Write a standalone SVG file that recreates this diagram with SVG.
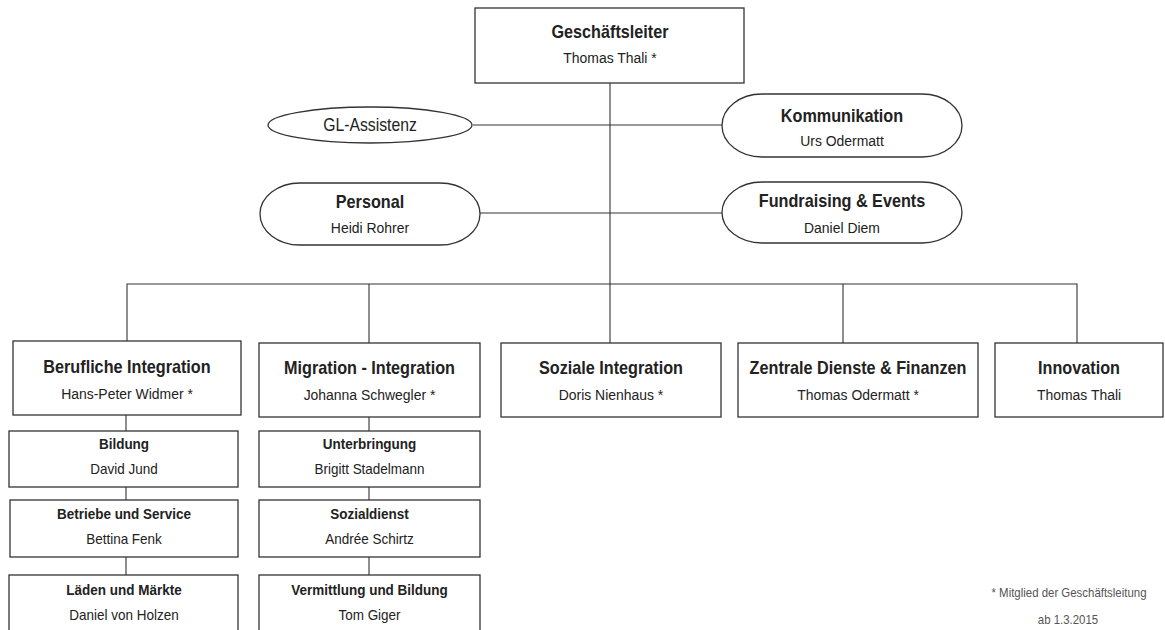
<svg xmlns="http://www.w3.org/2000/svg" width="1165" height="630" viewBox="0 0 1165 630">
<style>
  .box { fill: #ffffff; stroke: #333333; stroke-width: 1.3; }
  .con { fill: none; stroke: #333333; stroke-width: 1.1; }
  text { font-family: "Liberation Sans", Arial, sans-serif; fill: #222222; text-anchor: middle; }
  .h1 { font-size: 18px; font-weight: bold; }
  .n1 { font-size: 15.5px; }
  .h2 { font-size: 15px; font-weight: bold; }
  .n2 { font-size: 15px; }
  .ga { font-size: 17.5px; }
  .fn { font-size: 13px; fill: #555555; }
</style>
<rect width="1165" height="630" fill="#ffffff"/>

<g id="connectors">
  <path class="con" d="M610 83 V343"/>
  <path class="con" d="M473 125 H722"/>
  <path class="con" d="M480 213 H722"/>
  <path class="con" d="M127 341 V284 H1077 V343"/>
  <path class="con" d="M369 284 V343"/>
  <path class="con" d="M843 284 V343"/>
  <path class="con" d="M126 415 V431 M126 487 V500 M126 557 V575"/>
  <path class="con" d="M369 417 V431 M369 487 V500 M369 557 V575"/>
</g>

<g id="geschaeftsleiter">
  <rect class="box" x="475" y="8" width="269" height="75"/>
  <text class="h1" transform="translate(610 38) scale(0.9 1)">Geschäftsleiter</text>
  <text class="n1" transform="translate(610 63) scale(0.9 1)">Thomas Thali *</text>
</g>

<g id="gl-assistenz">
  <ellipse class="box" cx="370" cy="125" rx="102" ry="18"/>
  <text class="ga" transform="translate(370 131) scale(0.9 1)">GL-Assistenz</text>
</g>

<g id="kommunikation">
  <rect class="box" x="722" y="94" width="240" height="63" rx="40" ry="31.5"/>
  <text class="h1" transform="translate(842 122) scale(0.9 1)">Kommunikation</text>
  <text class="n1" transform="translate(842 146) scale(0.9 1)">Urs Odermatt</text>
</g>

<g id="personal">
  <rect class="box" x="260" y="183" width="220" height="62" rx="40" ry="31"/>
  <text class="h1" transform="translate(370 208) scale(0.9 1)">Personal</text>
  <text class="n1" transform="translate(370 233) scale(0.9 1)">Heidi Rohrer</text>
</g>

<g id="fundraising">
  <rect class="box" x="722" y="182" width="240" height="61" rx="40" ry="30.5"/>
  <text class="h1" transform="translate(842 207) scale(0.9 1)">Fundraising &amp; Events</text>
  <text class="n1" transform="translate(842 233) scale(0.9 1)">Daniel Diem</text>
</g>

<g id="berufliche-integration">
  <rect class="box" x="13" y="341" width="228" height="74"/>
  <text class="h1" transform="translate(127 373) scale(0.9 1)">Berufliche Integration</text>
  <text class="n1" transform="translate(127 399) scale(0.9 1)">Hans-Peter Widmer *</text>
</g>

<g id="migration-integration">
  <rect class="box" x="259" y="343" width="221" height="74"/>
  <text class="h1" transform="translate(369.5 374) scale(0.9 1)">Migration - Integration</text>
  <text class="n1" transform="translate(369.5 400) scale(0.9 1)">Johanna Schwegler *</text>
</g>

<g id="soziale-integration">
  <rect class="box" x="501" y="343" width="220" height="74"/>
  <text class="h1" transform="translate(611 374) scale(0.9 1)">Soziale Integration</text>
  <text class="n1" transform="translate(611 400) scale(0.9 1)">Doris Nienhaus *</text>
</g>

<g id="zentrale-dienste">
  <rect class="box" x="738" y="343" width="240" height="74"/>
  <text class="h1" transform="translate(858 374) scale(0.9 1)">Zentrale Dienste &amp; Finanzen</text>
  <text class="n1" transform="translate(858 400) scale(0.9 1)">Thomas Odermatt *</text>
</g>

<g id="innovation">
  <rect class="box" x="995" y="343" width="168" height="74"/>
  <text class="h1" transform="translate(1079 374) scale(0.9 1)">Innovation</text>
  <text class="n1" transform="translate(1079 400) scale(0.9 1)">Thomas Thali</text>
</g>

<g id="bildung">
  <rect class="box" x="9" y="431" width="229" height="56"/>
  <text class="h2" transform="translate(124 449) scale(0.9 1)">Bildung</text>
  <text class="n2" transform="translate(124 474) scale(0.9 1)">David Jund</text>
</g>

<g id="betriebe-service">
  <rect class="box" x="10" y="500" width="228" height="57"/>
  <text class="h2" transform="translate(124 519) scale(0.9 1)">Betriebe und Service</text>
  <text class="n2" transform="translate(124 544) scale(0.9 1)">Bettina Fenk</text>
</g>

<g id="laeden-maerkte">
  <rect class="box" x="9" y="575" width="229" height="62"/>
  <text class="h2" transform="translate(124 595) scale(0.9 1)">Läden und Märkte</text>
  <text class="n2" transform="translate(124 620) scale(0.9 1)">Daniel von Holzen</text>
</g>

<g id="unterbringung">
  <rect class="box" x="259" y="431" width="221" height="56"/>
  <text class="h2" transform="translate(369.5 449) scale(0.9 1)">Unterbringung</text>
  <text class="n2" transform="translate(369.5 474) scale(0.9 1)">Brigitt Stadelmann</text>
</g>

<g id="sozialdienst">
  <rect class="box" x="259" y="500" width="221" height="57"/>
  <text class="h2" transform="translate(369.5 519) scale(0.9 1)">Sozialdienst</text>
  <text class="n2" transform="translate(369.5 544) scale(0.9 1)">Andrée Schirtz</text>
</g>

<g id="vermittlung-bildung">
  <rect class="box" x="259" y="575" width="221" height="62"/>
  <text class="h2" transform="translate(369.5 595) scale(0.9 1)">Vermittlung und Bildung</text>
  <text class="n2" transform="translate(369.5 620) scale(0.9 1)">Tom Giger</text>
</g>

<g id="footnote">
  <text class="fn" transform="translate(1069 597) scale(0.88 1)">* Mitglied der Geschäftsleitung</text>
  <text class="fn" transform="translate(1068 624) scale(0.88 1)">ab 1.3.2015</text>
</g>
</svg>
